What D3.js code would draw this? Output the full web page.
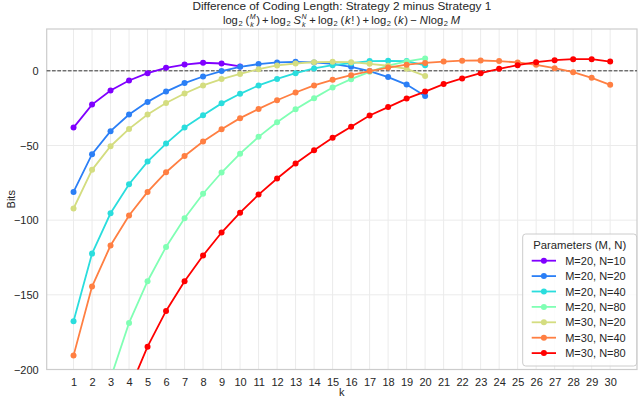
<!DOCTYPE html>
<html>
<head>
<meta charset="utf-8">
<script src="https://cdn.jsdelivr.net/npm/d3@7"></script>
<style>
  body { margin: 0; background: #fff; }
  svg { font-family: "Liberation Sans", Arial, sans-serif; }
</style>
</head>
<body>
<div id="chart"></div>
<script>
// values (bits), k = 1..n
const kTicks = d3.range(1, 31);
const yTicks = [0, -50, -100, -150, -200];
const seriesNames = ['M=20, N=10', 'M=20, N=20', 'M=20, N=40', 'M=20, N=80', 'M=30, N=20', 'M=30, N=40', 'M=30, N=80'];
const m20n10 = [-38.0, -22.6, -13.2, -6.5, -1.6, 2.0, 4.2, 5.4, 4.9, 2.9];
const m20n20 = [-81.1, -55.8, -40.4, -29.3, -20.8, -13.9, -8.2, -3.8, -0.2, 2.7,
                4.5, 5.6, 6.0, 5.6, 4.7, 2.7, -0.2, -4.2, -9.2, -16.8];
const m20n40 = [-167.7, -122.4, -95.4, -75.9, -60.8, -48.7, -38.0, -29.7, -21.8, -15.4,
                -9.8, -5.4, -1.6, 1.6, 3.8, 5.1, 6.5, 6.7, 6.5, 3.7];
const m20n80 = [-341, -257, -206, -168.8, -140.9, -117.9, -98.7, -82.3, -68.1, -55.5,
                -44.2, -34.5, -25.7, -18.3, -11.2, -5.6, -0.7, 3.4, 6.3, 8.3];
const m30n20 = [-92.2, -66.3, -50.5, -38.9, -29.3, -21.6, -15.2, -9.8, -5.5, -2.1,
                1.1, 3.6, 4.9, 5.8, 6.0, 5.8, 4.7, 3.4, 1.3, -3.4];
const m30n40 = [-190.7, -144.5, -117.0, -96.9, -81.1, -67.9, -57.0, -47.4, -39.1, -31.7,
                -25.5, -19.7, -14.5, -9.8, -6.0, -2.9, -0.2, 2.2, 4.1, 5.3,
                6.2, 6.8, 6.9, 6.5, 5.6, 4.0, 1.8, -0.9, -4.7, -9.4];
const m30n80 = [-387.7, -302.8, -252.2, -214, -184.7, -160.8, -140.9, -123.7, -108.3, -95.0,
                -82.9, -72.1, -62.1, -53.2, -44.9, -37.5, -29.9, -24.3, -18.6, -13.9,
                -8.9, -5.1, -1.6, 1.3, 3.8, 5.8, 7.1, 7.8, 7.8, 6.2];
const seriesValues = [m20n10, m20n20, m20n40, m20n80, m30n20, m30n40, m30n80];

const width = 640, height = 399;
const margin = { top: 29, right: 3, bottom: 29.5, left: 46.7 };

// matplotlib "rainbow" colormap sampled at 7 points
const rainbow = t => d3.rgb(
    255 * Math.min(1, Math.abs(2 * t - 0.5)),
    255 * Math.sin(Math.PI * t),
    255 * Math.cos(Math.PI * t / 2)).formatHex();
const colors = seriesNames.map((d, i) => rainbow(i / (seriesNames.length - 1)));

const svg = d3.select('#chart').append('svg')
    .attr('width', width)
    .attr('height', height);

const x = d3.scaleLinear().domain([-0.45, 31.45]).range([margin.left, width - margin.right]);
const y = d3.scaleLinear().domain([-200, 28]).range([height - margin.bottom, margin.top]);

svg.append('clipPath').attr('id', 'clip')
  .append('rect')
    .attr('x', x.range()[0]).attr('y', y.range()[1])
    .attr('width', x.range()[1] - x.range()[0])
    .attr('height', y.range()[0] - y.range()[1]);

// grid
svg.append('g').selectAll('line').data(kTicks).join('line')
    .attr('x1', d => x(d)).attr('x2', d => x(d))
    .attr('y1', y.range()[1]).attr('y2', y.range()[0])
    .attr('stroke', '#ebebeb').attr('stroke-width', 1);
svg.append('g').selectAll('line').data(yTicks).join('line')
    .attr('x1', x.range()[0]).attr('x2', x.range()[1])
    .attr('y1', d => y(d)).attr('y2', d => y(d))
    .attr('stroke', '#ebebeb').attr('stroke-width', 1);

// axes
const xAxis = svg.append('g')
    .attr('transform', `translate(0,${y.range()[0]})`)
    .call(d3.axisBottom(x).tickValues(kTicks).tickSize(0).tickPadding(9));
const yAxis = svg.append('g')
    .attr('transform', `translate(${x.range()[0]},0)`)
    .call(d3.axisLeft(y).tickValues(yTicks).tickSize(0).tickPadding(8)
        .tickFormat(d => d3.format('')(d).replace('-', '\u2212')));
[xAxis, yAxis].forEach(a => {
    a.select('.domain').remove();
    a.selectAll('text').attr('font-size', 11).attr('fill', '#262626')
        .attr('font-family', '"Liberation Sans", Arial, sans-serif');
});

// frame
svg.append('rect')
    .attr('x', x.range()[0]).attr('y', y.range()[1])
    .attr('width', x.range()[1] - x.range()[0])
    .attr('height', y.range()[0] - y.range()[1])
    .attr('fill', 'none').attr('stroke', '#cccccc').attr('stroke-width', 1.2);

// zero line
svg.append('line')
    .attr('x1', x.range()[0]).attr('x2', x.range()[1])
    .attr('y1', y(0)).attr('y2', y(0))
    .attr('stroke', '#333').attr('stroke-width', 1)
    .attr('stroke-dasharray', '3.7,1.6');

// series
const line = d3.line().x((d, i) => x(i + 1)).y(d => y(d));
const plot = svg.append('g').attr('clip-path', 'url(#clip)');
seriesValues.forEach((vals, s) => {
    const g = plot.append('g');
    g.append('path')
        .attr('d', line(vals))
        .attr('fill', 'none')
        .attr('stroke', colors[s])
        .attr('stroke-width', 1.8);
    g.selectAll('circle').data(vals).join('circle')
        .attr('cx', (d, i) => x(i + 1))
        .attr('cy', d => y(d))
        .attr('r', 3)
        .attr('fill', colors[s]);
});

// labels
svg.append('text')
    .attr('x', (x.range()[0] + x.range()[1]) / 2).attr('y', 396)
    .attr('text-anchor', 'middle').attr('font-size', 11).attr('fill', '#262626')
    .text('k');
svg.append('text')
    .attr('transform', `translate(15,${(y.range()[0] + y.range()[1]) / 2}) rotate(-90)`)
    .attr('text-anchor', 'middle').attr('font-size', 11).attr('fill', '#262626')
    .text('Bits');

// title
const cx = (x.range()[0] + x.range()[1]) / 2;
svg.append('text')
    .attr('x', cx).attr('y', 9.5)
    .attr('text-anchor', 'middle').attr('font-size', 11.8).attr('fill', '#262626')
    .text('Difference of Coding Length: Strategy 2 minus Strategy 1');

// second title line: formula laid out piece by piece
const th = '\u2009';
const pieces = [
    { t: 'log' }, { t: '2', sub: true }, { t: th + '(' },
    { stack: ['M', 'k'] }, { t: ')' + th + '+' + th + 'log' }, { t: '2', sub: true },
    { t: th + 'S', it: true }, { stack: ['N', 'k'] }, { t: th + '+' + th + 'log' }, { t: '2', sub: true },
    { t: th + '(' }, { t: 'k', it: true }, { t: '!' + th + ')' + th + '+' + th + 'log' }, { t: '2', sub: true },
    { t: th + '(' }, { t: 'k', it: true }, { t: ')' + th + '\u2212' + th }, { t: 'N', it: true },
    { t: 'log' }, { t: '2', sub: true }, { t: th + 'M', it: true }
];
const fs = 11.2, small = 7.5, stackSize = 7;
const baseY = 23.5;
const formula = svg.append('g');
let cursor = 0;
pieces.forEach(p => {
    if (p.stack) {
        const a = formula.append('text').attr('x', cursor).attr('y', baseY - 5)
            .attr('font-size', stackSize).attr('font-style', 'italic').attr('fill', '#262626').text(p.stack[0]);
        const b = formula.append('text').attr('x', cursor + 0.5).attr('y', baseY + 3)
            .attr('font-size', stackSize).attr('font-style', 'italic').attr('fill', '#262626').text(p.stack[1]);
        cursor += Math.max(a.node().getComputedTextLength(), b.node().getComputedTextLength() + 0.5) + 0.5;
    } else {
        const t = formula.append('text')
            .attr('x', cursor)
            .attr('y', p.sub ? baseY + 2.5 : baseY)
            .attr('font-size', p.sub ? small : fs)
            .attr('font-style', p.it ? 'italic' : null)
            .attr('fill', '#262626')
            .text(p.t);
        cursor += t.node().getComputedTextLength() + 0.6;
    }
});
formula.attr('transform', `translate(${cx - cursor / 2},0)`);

// legend
const lg = svg.append('g').attr('transform', 'translate(522.7,234)');
lg.append('rect')
    .attr('width', 114).attr('height', 132).attr('rx', 3)
    .attr('fill', 'white').attr('fill-opacity', 0.8)
    .attr('stroke', '#cccccc').attr('stroke-width', 1);
lg.append('text')
    .attr('x', 57).attr('y', 15)
    .attr('text-anchor', 'middle').attr('font-size', 11.3).attr('fill', '#262626')
    .text('Parameters (M, N)');
const items = lg.selectAll('g.item').data(seriesNames).join('g')
    .attr('class', 'item')
    .attr('transform', (d, i) => `translate(0,${26.7 + i * 15.4})`);
items.append('line')
    .attr('x1', 9).attr('x2', 33.3)
    .attr('stroke', (d, i) => colors[i]).attr('stroke-width', 1.8);
items.append('circle')
    .attr('cx', 21.2).attr('r', 3)
    .attr('fill', (d, i) => colors[i]);
items.append('text')
    .attr('x', 42.5).attr('y', 4)
    .attr('font-size', 11).attr('fill', '#262626')
    .text(d => d);
</script>
</body>
</html>
